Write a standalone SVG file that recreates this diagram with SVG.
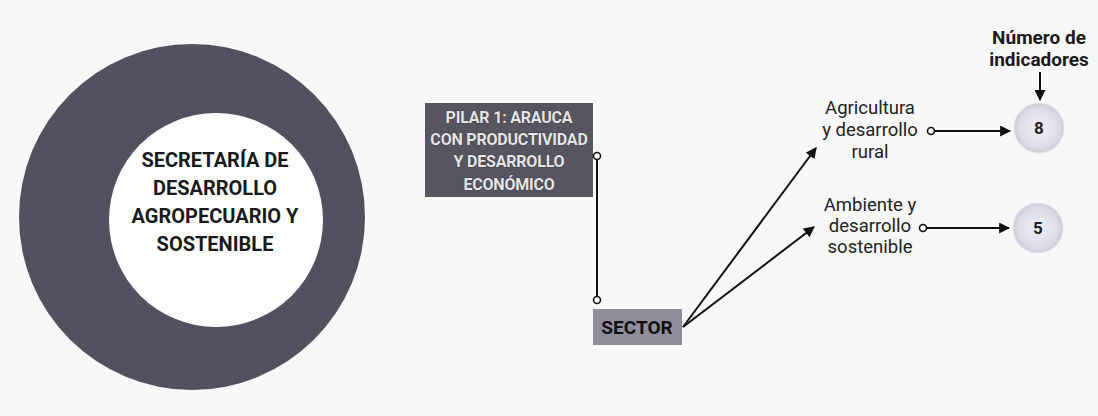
<svg xmlns="http://www.w3.org/2000/svg" width="1098" height="416" viewBox="0 0 1098 416">
  <defs>
    <style>
      .bold { font-family: Roboto, "Liberation Sans", sans-serif; font-weight: 700; }
      .reg { font-family: Roboto, "Liberation Sans", sans-serif; font-weight: 400; }
      .ctext { font-size: 20px; fill: #1a1a1a; text-anchor: middle; }
      .ptext { font-size: 16px; fill: #e6e6e6; text-anchor: middle; stroke: #2e2d36; stroke-width: 0.7px; paint-order: stroke; letter-spacing: -0.2px; }
      .stext { font-size: 19px; fill: #111; text-anchor: middle; }
      .ltext { font-size: 18.5px; fill: #222; text-anchor: middle; }
      .ntext { font-size: 17px; fill: #222; text-anchor: middle; }
      .htext { font-size: 19px; fill: #1a1a1a; text-anchor: middle; }
      .conn { stroke: #111; stroke-width: 2; fill: none; }
      .dot { fill: #fff; stroke: #111; stroke-width: 1.6; }
    </style>
    <marker id="arrow" viewBox="0 0 10 10" refX="9" refY="5" markerWidth="5.5" markerHeight="5.5" orient="auto">
      <path d="M0,0 L10,5 L0,10 z" fill="#111"/>
    </marker>
    <radialGradient id="numgrad" cx="0.5" cy="0.5" r="0.5">
      <stop offset="0" stop-color="#f0eff6"/>
      <stop offset="0.75" stop-color="#dddce8"/>
      <stop offset="0.92" stop-color="#cfcedd"/>
      <stop offset="1" stop-color="#cfcedd" stop-opacity="0"/>
    </radialGradient>
  </defs>

  <rect x="0" y="0" width="1098" height="416" fill="#f8f8f8"/>

  <g id="secretaria">
    <circle cx="192" cy="217" r="173" fill="#52515f"/>
    <circle cx="216" cy="220" r="107" fill="#ffffff"/>
    <text class="bold ctext" x="215" y="167">SECRETARÍA DE</text>
    <text class="bold ctext" x="215" y="195">DESARROLLO</text>
    <text class="bold ctext" x="215" y="223">AGROPECUARIO Y</text>
    <text class="bold ctext" x="215" y="251">SOSTENIBLE</text>
  </g>

  <g id="pilar">
    <rect x="425" y="103" width="168" height="94" fill="#57555f"/>
    <text class="bold ptext" x="509" y="123">PILAR 1: ARAUCA</text>
    <text class="bold ptext" x="509" y="145">CON PRODUCTIVIDAD</text>
    <text class="bold ptext" x="509" y="167">Y DESARROLLO</text>
    <text class="bold ptext" x="509" y="190">ECONÓMICO</text>
  </g>

  <g id="sector">
    <rect x="593" y="309" width="89" height="36" fill="#8f8e9a"/>
    <text class="bold stext" x="637" y="334">SECTOR</text>
  </g>

  <g id="agricultura">
    <text class="reg ltext" x="870" y="114">Agricultura</text>
    <text class="reg ltext" x="870" y="136">y desarrollo</text>
    <text class="reg ltext" x="870" y="158">rural</text>
  </g>

  <g id="ambiente">
    <text class="reg ltext" x="870" y="211">Ambiente y</text>
    <text class="reg ltext" x="870" y="232">desarrollo</text>
    <text class="reg ltext" x="870" y="253">sostenible</text>
  </g>

  <g id="encabezado">
    <text class="bold htext" x="1039" y="44">Número de</text>
    <text class="bold htext" x="1039" y="66">indicadores</text>
  </g>

  <g id="num8">
    <circle cx="1039" cy="128" r="26" fill="url(#numgrad)"/>
    <text class="bold ntext" x="1039" y="134">8</text>
  </g>

  <g id="num5">
    <circle cx="1038" cy="228" r="26" fill="url(#numgrad)"/>
    <text class="bold ntext" x="1038" y="234">5</text>
  </g>

  <g id="connectors">
    <line class="conn" x1="597" y1="159" x2="597" y2="297"/>
    <circle class="dot" cx="597" cy="156" r="3.5"/>
    <circle class="dot" cx="597" cy="300" r="3.5"/>
    <line class="conn" x1="683" y1="327" x2="816" y2="148" marker-end="url(#arrow)"/>
    <line class="conn" x1="683" y1="327" x2="814" y2="227" marker-end="url(#arrow)"/>
    <line class="conn" x1="935" y1="131" x2="1010" y2="131" marker-end="url(#arrow)"/>
    <circle class="dot" cx="931" cy="131" r="3.5"/>
    <line class="conn" x1="927" y1="228" x2="1009" y2="228" marker-end="url(#arrow)"/>
    <circle class="dot" cx="923" cy="228" r="3.5"/>
    <line class="conn" x1="1040" y1="72" x2="1040" y2="100" marker-end="url(#arrow)"/>
  </g>
</svg>
